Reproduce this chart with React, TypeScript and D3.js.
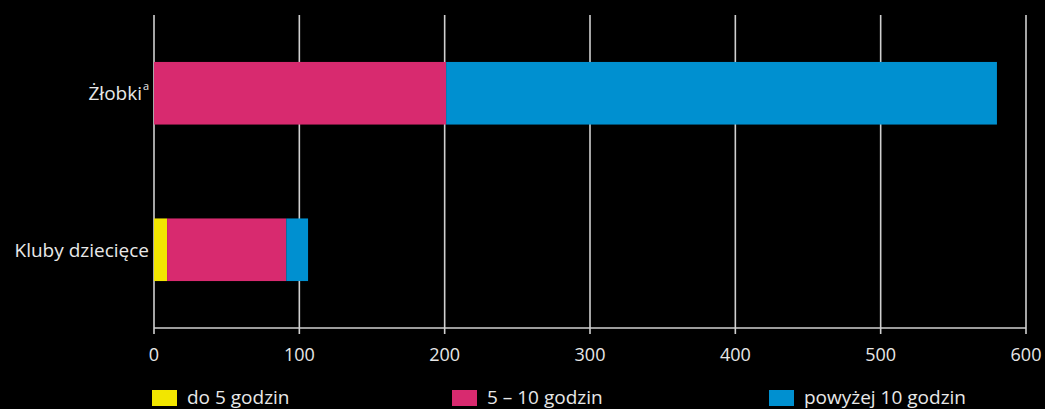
import React from "react";
import * as d3 from "d3";

const categories = ["Żłobki", "Kluby dziecięce"];
const superscripts = ["a", ""];
const seriesNames = ["do 5 godzin", "5 – 10 godzin", "powyżej 10 godzin"];
const seriesColors = ["#F2E600", "#D82A6F", "#0090D0"];
const upTo5 = [0, 9];
const from5to10 = [201, 82];
const over10 = [379, 15];
const xTicks = [0, 100, 200, 300, 400, 500, 600];

const W = 1045;
const H = 409;
const FONT = "'Open Sans', 'Noto Sans', sans-serif";
const TEXT = "#E8E8E8";

export default function App() {
  const x = d3.scaleLinear().domain([0, 600]).range([154, 1026]);
  const y = d3.scaleBand<string>().domain(categories).range([15, 328]).paddingInner(0.6).paddingOuter(0.3);

  const rows = categories.map((c, i) => ({ c, vals: [upTo5[i], from5to10[i], over10[i]] }));
  const stack = d3.stack<any>().keys(["0", "1", "2"]).value((d, k) => d.vals[+k]);
  const layers = stack(rows as any);

  const legendX = [152, 452, 769];

  return (
    <div style={{ position: "fixed", left: 0, top: 0, width: W, height: H, background: "#000" }}>
      <svg width={W} height={H} style={{ display: "block", background: "#000" }} fontFamily={FONT}>
        {/* grid */}
        {xTicks.map((t) => (
          <line key={"g" + t} x1={x(t)} x2={x(t)} y1={15} y2={334} stroke="#D0D0D0" strokeWidth={1.6} />
        ))}
        {/* bars */}
        {layers.map((layer, li) =>
          layer.map((seg, ri) => {
            const w = x(seg[1]) - x(seg[0]);
            if (w <= 0) return null;
            return (
              <rect
                key={li + "-" + ri}
                x={x(seg[0])}
                y={y(categories[ri])}
                width={w}
                height={y.bandwidth()}
                fill={seriesColors[li]}
              />
            );
          })
        )}
        {/* axis */}
        <line x1={x(0)} x2={x(600)} y1={328} y2={328} stroke="#D0D0D0" strokeWidth={1.6} />
        {xTicks.map((t) => (
          <text key={"t" + t} x={x(t)} y={361} textAnchor="middle" fill={TEXT} fontSize={18}>
            {t}
          </text>
        ))}
        {/* category labels */}
        {categories.map((c, i) => (
          <text
            key={c}
            x={superscripts[i] ? 142 : 149}
            y={(y(c) as number) + y.bandwidth() / 2 + 7}
            textAnchor="end"
            fill={TEXT}
            fontSize={19}
          >
            {c}
          </text>
        ))}
        {categories.map((c, i) =>
          superscripts[i] ? (
            <text key={"s" + c} x={143} y={(y(c) as number) + y.bandwidth() / 2 - 3} fill={TEXT} fontSize={11}>
              {superscripts[i]}
            </text>
          ) : null
        )}
        {/* legend */}
        {seriesNames.map((n, i) => (
          <g key={n}>
            <rect x={legendX[i]} y={390} width={25} height={16} fill={seriesColors[i]} />
            <text x={legendX[i] + 35} y={404} fill={TEXT} fontSize={19}>
              {n}
            </text>
          </g>
        ))}
      </svg>
    </div>
  );
}
